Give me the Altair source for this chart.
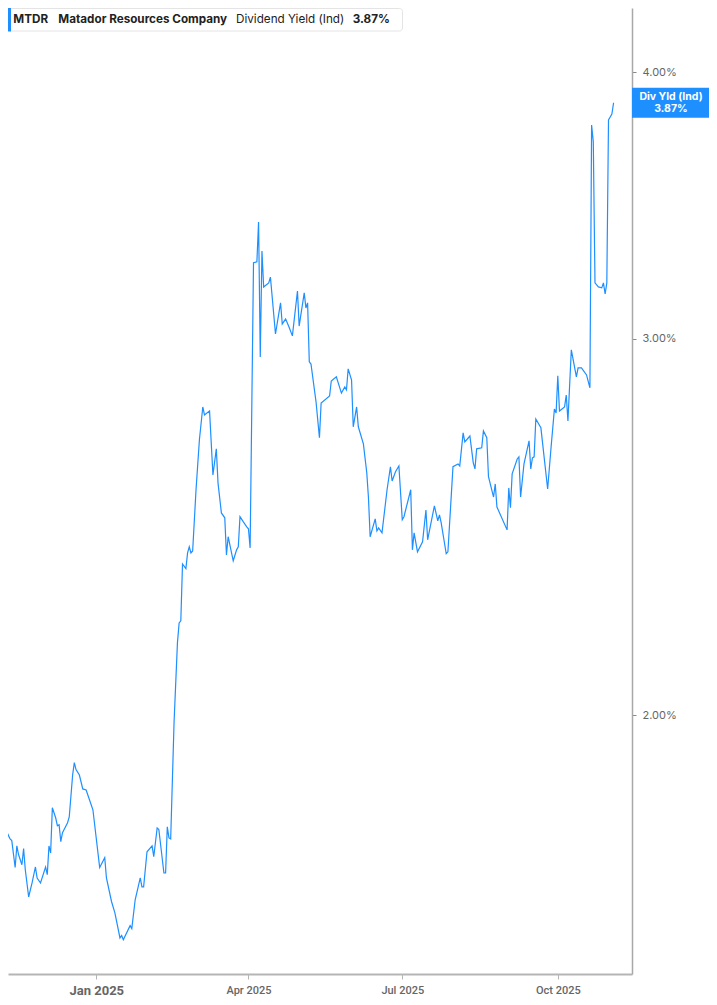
import altair as alt
import pandas as pd

# MTDR indicated dividend yield (values in %)
ticker = "MTDR"
company = "Matador Resources Company"
metric = "Dividend Yield (Ind)"
badge_label = "Div Yld (Ind)"

dates = [
    "2024-11-05", "2024-11-06", "2024-11-07", "2024-11-09", "2024-11-11", "2024-11-12",
    "2024-11-14", "2024-11-15", "2024-11-16", "2024-11-18", "2024-11-19", "2024-11-20",
    "2024-11-22", "2024-11-24", "2024-11-26", "2024-11-27", "2024-11-29", "2024-12-02",
    "2024-12-03", "2024-12-04", "2024-12-05", "2024-12-06", "2024-12-08", "2024-12-09",
    "2024-12-10", "2024-12-11", "2024-12-12", "2024-12-15", "2024-12-16", "2024-12-18",
    "2024-12-19", "2024-12-20", "2024-12-22", "2024-12-24", "2024-12-26", "2024-12-27",
    "2024-12-30", "2025-01-03", "2025-01-06", "2025-01-07", "2025-01-10", "2025-01-12",
    "2025-01-15", "2025-01-16", "2025-01-17", "2025-01-21", "2025-01-22", "2025-01-24",
    "2025-01-27", "2025-01-28", "2025-01-29", "2025-01-31", "2025-02-03", "2025-02-04",
    "2025-02-06", "2025-02-07", "2025-02-10", "2025-02-11", "2025-02-12", "2025-02-13",
    "2025-02-14", "2025-02-16", "2025-02-18", "2025-02-19", "2025-02-20", "2025-02-21",
    "2025-02-23", "2025-02-24", "2025-02-25", "2025-02-26", "2025-02-27", "2025-03-01",
    "2025-03-03", "2025-03-05", "2025-03-06", "2025-03-09", "2025-03-11", "2025-03-13",
    "2025-03-14", "2025-03-16", "2025-03-18", "2025-03-19", "2025-03-20", "2025-03-23",
    "2025-03-25", "2025-03-26", "2025-03-27", "2025-03-29", "2025-03-31", "2025-04-01",
    "2025-04-02", "2025-04-04", "2025-04-06", "2025-04-07", "2025-04-08", "2025-04-09",
    "2025-04-10", "2025-04-13", "2025-04-14", "2025-04-17", "2025-04-19", "2025-04-20",
    "2025-04-21", "2025-04-23", "2025-04-25", "2025-04-27", "2025-04-30", "2025-05-01",
    "2025-05-04", "2025-05-05", "2025-05-06", "2025-05-07", "2025-05-08", "2025-05-11",
    "2025-05-13", "2025-05-14", "2025-05-19", "2025-05-20", "2025-05-23", "2025-05-26",
    "2025-05-28", "2025-05-29", "2025-05-30", "2025-06-01", "2025-06-02", "2025-06-04",
    "2025-06-05", "2025-06-08", "2025-06-10", "2025-06-11", "2025-06-12", "2025-06-15",
    "2025-06-16", "2025-06-17", "2025-06-19", "2025-06-22", "2025-06-24", "2025-06-25",
    "2025-06-27", "2025-06-29", "2025-07-01", "2025-07-02", "2025-07-06", "2025-07-07",
    "2025-07-08", "2025-07-10", "2025-07-13", "2025-07-15", "2025-07-16", "2025-07-20",
    "2025-07-22", "2025-07-23", "2025-07-24", "2025-07-27", "2025-07-28", "2025-07-31",
    "2025-08-03", "2025-08-04", "2025-08-06", "2025-08-07", "2025-08-10", "2025-08-12",
    "2025-08-13", "2025-08-14", "2025-08-17", "2025-08-18", "2025-08-20", "2025-08-21",
    "2025-08-24", "2025-08-25", "2025-08-26", "2025-09-01", "2025-09-02", "2025-09-03",
    "2025-09-04", "2025-09-07", "2025-09-08", "2025-09-09", "2025-09-11", "2025-09-14",
    "2025-09-15", "2025-09-16", "2025-09-17", "2025-09-18", "2025-09-21", "2025-09-25",
    "2025-09-27", "2025-09-29", "2025-09-30", "2025-10-01", "2025-10-02", "2025-10-05",
    "2025-10-06", "2025-10-07", "2025-10-09", "2025-10-12", "2025-10-13", "2025-10-15",
    "2025-10-18", "2025-10-20", "2025-10-21", "2025-10-22", "2025-10-23", "2025-10-25",
    "2025-10-27", "2025-10-28", "2025-10-29", "2025-10-30", "2025-10-31", "2025-11-01",
    "2025-11-02", "2025-11-03",
]

yields = [
    1.886, 1.745, 1.769, 1.764, 1.750, 1.747, 1.697, 1.737, 1.721, 1.702,
    1.732, 1.693, 1.644, 1.669, 1.698, 1.678, 1.669, 1.698, 1.684, 1.737,
    1.724, 1.810, 1.790, 1.775, 1.777, 1.745, 1.762, 1.781, 1.792, 1.875,
    1.900, 1.886, 1.875, 1.847, 1.845, 1.835, 1.806, 1.697, 1.715, 1.678,
    1.636, 1.616, 1.573, 1.577, 1.570, 1.594, 1.589, 1.639, 1.678, 1.662,
    1.662, 1.726, 1.737, 1.717, 1.771, 1.768, 1.687, 1.687, 1.773, 1.752,
    1.750,
    1.984, 2.162, 2.209, 2.214, 2.354, 2.342, 2.382, 2.398, 2.382, 2.387,
    2.550, 2.691, 2.788, 2.764, 2.776, 2.591, 2.665, 2.569, 2.487, 2.474,
    2.377, 2.424, 2.362, 2.390, 2.398, 2.477, 2.463, 2.450, 2.445, 2.395,
    3.257, 3.260, 3.403, 2.942, 3.298, 3.173, 3.187, 3.207, 3.016, 3.085,
    3.119, 3.049, 3.065, 3.039, 3.010, 3.159, 3.042, 3.153, 3.102, 3.119,
    2.927, 2.920, 2.803, 2.697, 2.800, 2.821, 2.867, 2.880, 2.830, 2.849,
    2.840, 2.905, 2.870, 2.729, 2.788, 2.729, 2.679, 2.597,
    2.528, 2.424, 2.471, 2.439, 2.447, 2.434, 2.550, 2.614, 2.574, 2.600,
    2.616, 2.469, 2.477, 2.550, 2.390, 2.434, 2.385, 2.411, 2.495, 2.416,
    2.506, 2.466, 2.482, 2.461, 2.380, 2.385, 2.614, 2.622, 2.616, 2.711,
    2.685, 2.702, 2.625, 2.608, 2.665, 2.668, 2.717, 2.697, 2.586, 2.530,
    2.566, 2.503, 2.442, 2.555, 2.501, 2.594, 2.636, 2.642, 2.530, 2.622,
    2.688, 2.608, 2.639, 2.642, 2.752, 2.726, 2.552, 2.668, 2.782, 2.770,
    2.883, 2.776, 2.788, 2.824, 2.746, 2.965, 2.880, 2.908, 2.908, 2.886,
    2.846,
    3.778, 3.710, 3.187, 3.173, 3.170, 3.187, 3.149, 3.187, 3.799, 3.811,
    3.823, 3.870,
]

y_ticks = [2, 3, 4]
y_domain = [1.513, 4.286]

current = yields[-1]
current_text = f"{current:.2f}%"

BLUE = "#1e8fff"
GREY = "#666666"

df = pd.DataFrame({"date": dates, "yield": yields})

x_scale = alt.Scale(
    type="utc",
    domain=[
        alt.DateTime(year=2024, month=11, date=9, hours=18, minutes=30, utc=True),
        alt.DateTime(year=2025, month=11, date=13, hours=21, minutes=30, utc=True),
    ],
)
x_axis = alt.Axis(
    values=[alt.DateTime(year=2025, month=m, date=1, utc=True) for m in (1, 4, 7, 10)],
    labelExpr="utcFormat(datum.value, '%b %Y')",
    title=None,
    grid=False,
    domainColor="#b5b5b5",
    domainWidth=2,
    tickColor="#b5b5b5",
    tickSize=5,
    labelPadding=5,
    labelFont="Roboto",
    labelColor=GREY,
    labelFontSize={"condition": {"test": "utcmonth(datum.value) === 0", "value": 13}, "value": 11},
    labelFontWeight={"condition": {"test": "utcmonth(datum.value) === 0", "value": "bold"}, "value": 500},
)

y_scale = alt.Scale(type="log", domain=y_domain, nice=False)
y_axis = alt.Axis(
    orient="right",
    values=y_ticks,
    labelExpr="format(datum.value, '.2f') + '%'",
    title=None,
    grid=False,
    domainColor="#a8a8a8",
    domainWidth=1.5,
    tickColor="#888888",
    tickSize=4,
    labelPadding=6,
    labelFont="Inter",
    labelFontSize=11,
    labelColor=GREY,
)
y_enc = alt.Y("yield:Q", scale=y_scale, axis=y_axis)

line = alt.Chart(df).mark_line(color=BLUE, strokeWidth=1.2, clip=True).encode(
    x=alt.X("date:T", scale=x_scale, axis=x_axis),
    y=y_enc,
)

# header legend box
one = pd.DataFrame({"k": [0]})
box = alt.Chart(one).mark_rect(
    fill="white", stroke="#e4e4e4", strokeWidth=1, cornerRadius=3
).encode(x=alt.value(0.5), x2=alt.value(394.5), y=alt.value(0.5), y2=alt.value(23))
bar = alt.Chart(one).mark_rect(fill=BLUE).encode(
    x=alt.value(0), x2=alt.value(3), y=alt.value(0), y2=alt.value(23.5)
)

legend_parts = [
    (ticker, 5.3, "bold"),
    (company, 50.3, "bold"),
    (metric, 228, "normal"),
    (current_text, 344.7, "bold"),
]
legend_layers = []
for txt, px, weight in legend_parts:
    legend_layers.append(
        alt.Chart(pd.DataFrame({"t": [txt]})).mark_text(
            align="left", baseline="middle", font="Inter", fontSize=11.7,
            fontWeight=weight, color="#222222"
        ).encode(x=alt.value(px), y=alt.value(10.5), text="t:N")
    )

# value badge on the right axis (kept inside the 701px-wide page body)
last = pd.DataFrame({"yield": [current], "l1": [badge_label], "l2": [current_text]})
badge = alt.Chart(last).mark_point(
    shape="M-1,-0.39H1V0.39H-1Z", size=5929, filled=True, fill=BLUE,
    opacity=1, strokeWidth=0
).encode(x=alt.value(662.5), y=y_enc)
badge_t1 = alt.Chart(last).mark_text(
    font="Inter", fontSize=10.5, fontWeight="bold", color="white", dy=-5.5
).encode(x=alt.value(663), y=y_enc, text="l1:N")
badge_t2 = alt.Chart(last).mark_text(
    font="Inter", fontSize=10.5, fontWeight="bold", color="white", dy=6
).encode(x=alt.value(663), y=y_enc, text="l2:N")

chart = alt.layer(
    line, box, bar, *legend_layers, badge, badge_t1, badge_t2
).properties(
    width=624, height=966, padding=0
).configure_view(stroke=None)

chart.save("out.html", embed_options={"renderer": "svg", "actions": False})
